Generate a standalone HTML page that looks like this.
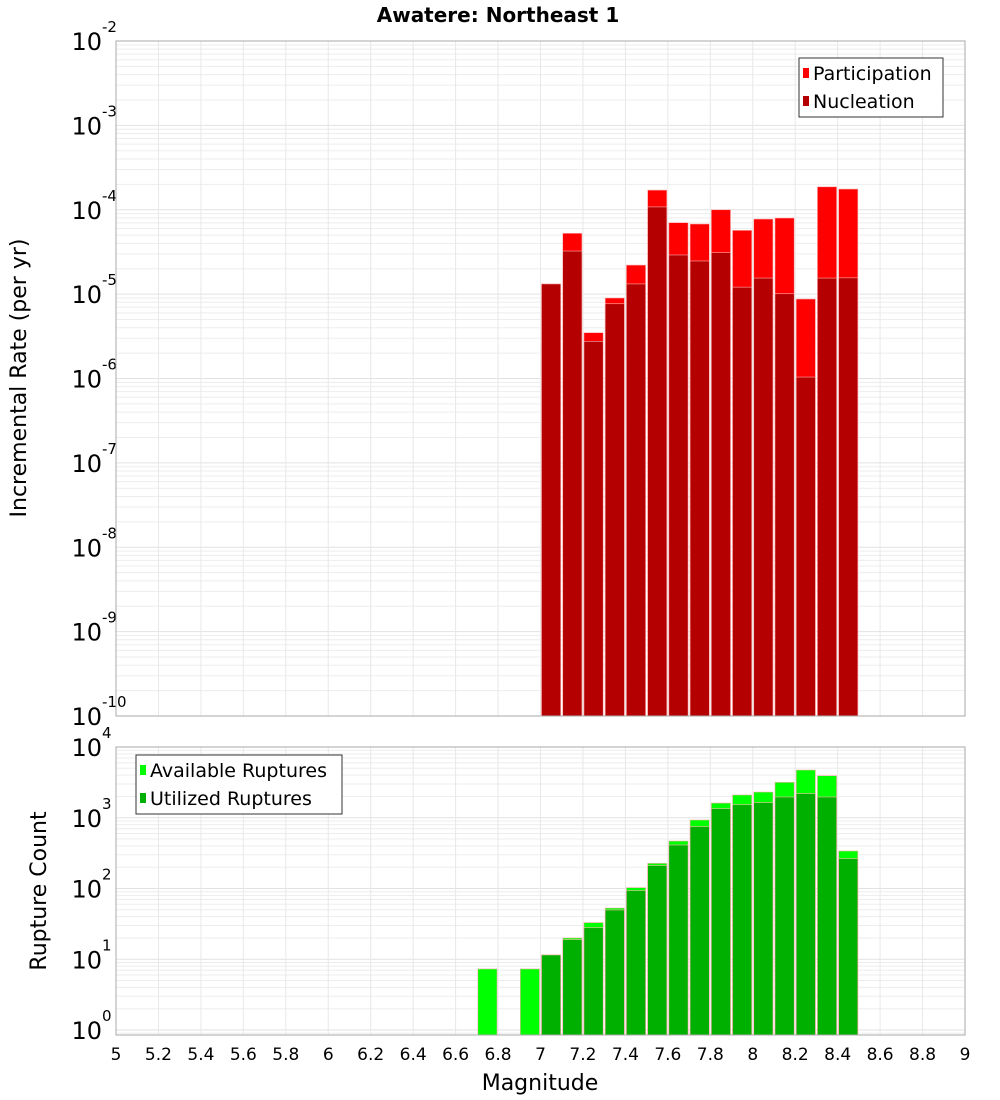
<!DOCTYPE html>
<html><head><meta charset="utf-8"><style>
html,body{margin:0;padding:0;background:#fff;}
svg{display:block;font-family:"DejaVu Sans","Liberation Sans",sans-serif;}
</style></head><body>
<svg id="chart" width="1000" height="1100" xmlns="http://www.w3.org/2000/svg">
<text x="498" y="22" text-anchor="middle" font-size="20" font-weight="bold">Awatere: Northeast 1</text>
<g id="top"></g><g id="bot"></g>
<text transform="translate(26,378) rotate(-90)" text-anchor="middle" font-size="22">Incremental Rate (per yr)</text>
<text transform="translate(46,891) rotate(-90)" text-anchor="middle" font-size="22">Rupture Count</text>
<text x="540" y="1090" text-anchor="middle" font-size="22">Magnitude</text>
</svg>
<script>
const mags = [7.0,7.1,7.2,7.3,7.4,7.5,7.6,7.7,7.8,7.9,8.0,8.1,8.2,8.3,8.4];
const participation = [1.32e-5,5.26e-5,3.49e-6,9.0e-6,2.21e-5,1.71e-4,7.03e-5,6.78e-5,1.0e-4,5.7e-5,7.76e-5,7.98e-5,8.75e-6,1.87e-4,1.76e-4];
const nucleation = [1.32e-5,3.24e-5,2.76e-6,7.69e-6,1.32e-5,1.08e-4,2.91e-5,2.47e-5,3.10e-5,1.21e-5,1.55e-5,1.01e-5,1.04e-6,1.55e-5,1.56e-5];
const countMags = [6.7,6.9,7.0,7.1,7.2,7.3,7.4,7.5,7.6,7.7,7.8,7.9,8.0,8.1,8.2,8.3,8.4];
const available = [7.3,7.3,11.5,20,33,53,103,227,469,930,1615,2100,2310,3170,4730,3930,339];
const utilized = [0,0,11.5,18.9,27.9,49.7,93,210,412,747,1343,1528,1633,1964,2188,1964,264];
const xTicks = [5,5.2,5.4,5.6,5.8,6,6.2,6.4,6.6,6.8,7,7.2,7.4,7.6,7.8,8,8.2,8.4,8.6,8.8,9];
const topExps = [-2,-3,-4,-5,-6,-7,-8,-9,-10];
const botExps = [0,1,2,3,4];

const NS="http://www.w3.org/2000/svg";
const L=116,R=965;
const X=m=>L+(m-5)*(R-L)/4;
const yTop=v=>41+(-2-Math.log10(v))*84.375;
const yBot=v=>1030-70.75*Math.log10(v);
function el(p,tag,a){const e=document.createElementNS(NS,tag);for(const k in a)e.setAttribute(k,a[k]);p.appendChild(e);return e;}

function panel(g,top,bot,yf,lo,hi,exps,name){
  for(let d=lo;d<hi;d++)for(let k=1;k<10;k++){const y=yf(k*Math.pow(10,d));if(y<top-0.5||y>bot+0.5)continue;
    const l=el(g,'line',{x1:L,x2:R,y1:y,y2:y,stroke:k==1?'#e2e2e2':'#ededed','stroke-width':1});
    
    }
  xTicks.forEach(t=>{const l=el(g,'line',{x1:X(t),x2:X(t),y1:top,y2:bot,stroke:'#e8e8e8'});
    
    });
  exps.forEach(e=>{const y=yf(Math.pow(10,e));
    const t=el(g,'text',{x:102,y:y+9,'text-anchor':'end','font-size':24});
    t.textContent='10';
    
    
    const s=el(g,'text',{x:102,y:y-9,'font-size':15});
    s.textContent=String(e);
    
    });
}
function frame(g,top,bot,name){const r=el(g,'rect',{x:L,y:top,width:R-L,height:bot-top,fill:'none',stroke:'#aaa'});
  
  }
function bar(g,m,v,yf,base,color,name){if(v<=0)return;const x0=X(m)+1,x1=X(m+0.1)-1;const y=yf(v);
  const r=el(g,'rect',{x:x0,y:y,width:x1-x0,height:base-y,fill:color,stroke:'#ffb0b0','stroke-width':0.6});
  
  }

const gt=document.getElementById('top');
panel(gt,41,716,yTop,-10,-2,topExps,'top');
mags.forEach((m,i)=>bar(gt,m,participation[i],yTop,716,'#ff0000','participation-bar'));
mags.forEach((m,i)=>bar(gt,m,nucleation[i],yTop,716,'#b40000','nucleation-bar'));
frame(gt,41,716,'top-plot-frame');

const gb=document.getElementById('bot');
panel(gb,747,1035,yBot,-1,4,botExps,'bot');
countMags.forEach((m,i)=>bar(gb,m,available[i],yBot,1035,'#00ff00','available-bar'));
countMags.forEach((m,i)=>bar(gb,m,utilized[i],yBot,1035,'#00b000','utilized-bar'));
frame(gb,747,1035,'bottom-plot-frame');

xTicks.forEach(t=>{const tx=el(gb,'text',{x:X(t),y:1060,'text-anchor':'middle','font-size':17});
  tx.textContent=String(t);
  
  });

function legend(x,y,w,items,name){const g=el(document.getElementById('chart'),'g',{});
  
  
  el(g,'rect',{x:x,y:y,width:w,height:59,fill:'#fff',stroke:'#333'});
  items.forEach((it,i)=>{const cy=y+15+i*28;
    const s=el(g,'rect',{x:x+4,y:cy-5,width:6,height:10,fill:it[1]});
    
    
    const t=el(g,'text',{x:x+14,y:cy+7,'font-size':19});t.textContent=it[0];
    
    });}
legend(799,58,144,[['Participation','#ff0000'],['Nucleation','#b40000']],'top-legend');
legend(136,755,206,[['Available Ruptures','#00ff00'],['Utilized Ruptures','#00b000']],'bottom-legend');
</script>
</body></html>
